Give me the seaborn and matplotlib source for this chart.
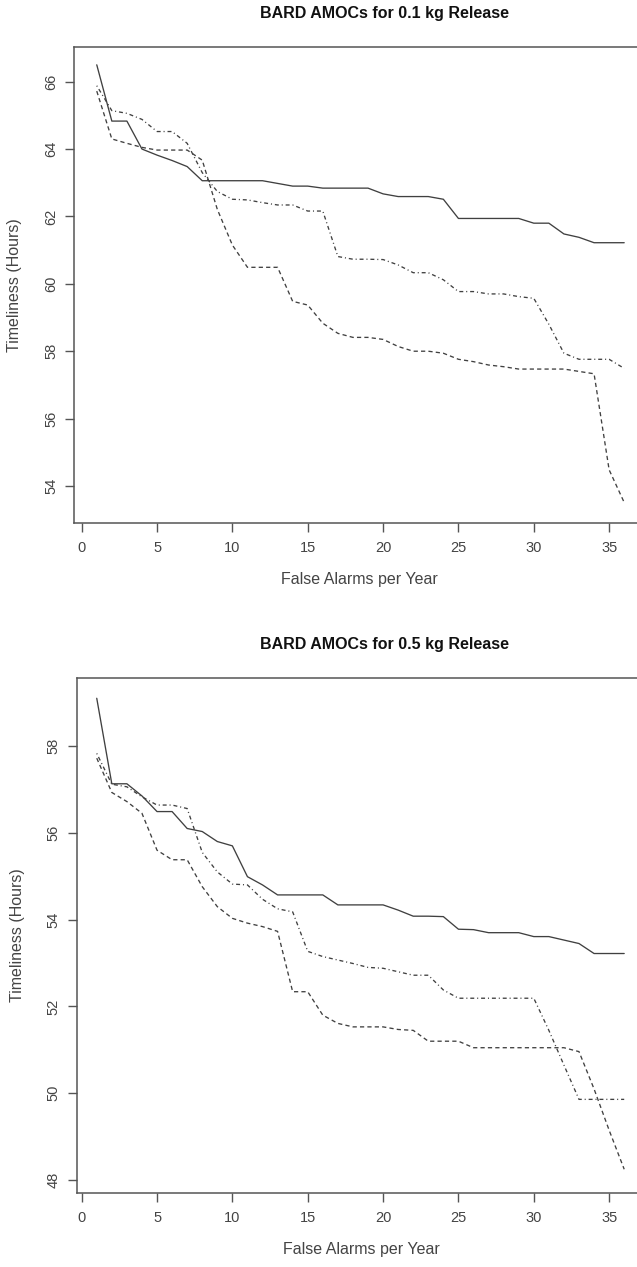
import numpy as np
import pandas as pd
import matplotlib
matplotlib.use("Agg")
import matplotlib.pyplot as plt
import seaborn as sns

# False alarms per year (x) shared by both panels
false_alarms = list(range(1, 37))

# 0.1 kg release
small_solid = [66.50, 64.83, 64.83, 64.00, 63.82, 63.66, 63.48, 63.06, 63.06, 63.06,
               63.06, 63.06, 62.98, 62.90, 62.90, 62.84, 62.84, 62.84, 62.84, 62.67,
               62.59, 62.59, 62.59, 62.51, 61.94, 61.94, 61.94, 61.94, 61.94, 61.80,
               61.80, 61.48, 61.38, 61.22, 61.22, 61.22]
small_dashed = [65.72, 64.30, 64.17, 64.05, 63.97, 63.97, 63.97, 63.67, 62.21, 61.15,
                60.49, 60.49, 60.49, 59.48, 59.37, 58.83, 58.53, 58.41, 58.41, 58.35,
                58.14, 58.00, 58.00, 57.94, 57.76, 57.69, 57.59, 57.54, 57.47, 57.47,
                57.47, 57.47, 57.40, 57.33, 54.48, 53.51]
small_dashdot = [65.88, 65.14, 65.06, 64.88, 64.52, 64.52, 64.17, 63.30, 62.74, 62.51,
                 62.49, 62.41, 62.34, 62.34, 62.16, 62.16, 60.81, 60.73, 60.73, 60.72,
                 60.56, 60.33, 60.33, 60.12, 59.77, 59.77, 59.70, 59.70, 59.62, 59.57,
                 58.80, 57.94, 57.76, 57.76, 57.76, 57.49]

# 0.5 kg release
large_solid = [59.10, 57.13, 57.13, 56.85, 56.49, 56.49, 56.10, 56.03, 55.80, 55.70,
               54.99, 54.80, 54.57, 54.57, 54.57, 54.57, 54.34, 54.34, 54.34, 54.34,
               54.22, 54.08, 54.08, 54.07, 53.78, 53.77, 53.70, 53.70, 53.70, 53.61,
               53.61, 53.53, 53.45, 53.22, 53.22, 53.22]
large_dashed = [57.72, 56.93, 56.72, 56.45, 55.60, 55.38, 55.38, 54.76, 54.30, 54.03,
                53.92, 53.84, 53.73, 52.34, 52.34, 51.80, 51.61, 51.53, 51.53, 51.53,
                51.47, 51.45, 51.20, 51.20, 51.20, 51.05, 51.05, 51.05, 51.05, 51.05,
                51.05, 51.05, 50.96, 50.10, 49.15, 48.25]
large_dashdot = [57.83, 57.12, 57.06, 56.83, 56.64, 56.64, 56.56, 55.55, 55.10, 54.82,
                 54.80, 54.47, 54.25, 54.18, 53.27, 53.15, 53.07, 52.99, 52.90, 52.88,
                 52.80, 52.72, 52.72, 52.38, 52.19, 52.19, 52.19, 52.19, 52.19, 52.19,
                 51.45, 50.65, 49.86, 49.86, 49.86, 49.86]

titles = ["BARD AMOCs for 0.1 kg Release", "BARD AMOCs for 0.5 kg Release"]
x_ticks = [0, 5, 10, 15, 20, 25, 30, 35]
y_ticks_small = [54, 56, 58, 60, 62, 64, 66]
y_ticks_large = [48, 50, 52, 54, 56, 58]

sns.set_style("ticks")
plt.rcParams["font.family"] = ["Liberation Sans", "DejaVu Sans"]

W, H = 637, 1267
fig = plt.figure(figsize=(W / 100, H / 100), dpi=100)


def frame(series):
    rows = []
    for name, vals in series.items():
        for x, v in zip(false_alarms, vals):
            rows.append({"alarms": x, "hours": v, "curve": name})
    return pd.DataFrame(rows)


dash_map = {"solid": "", "dashed": (3.2, 2.4), "dashdot": (0.8, 2.2, 3.0, 2.2)}


def panel(rect_px, xlim, ylim, series, title, yticks):
    left, top, right, bottom = rect_px
    ax = fig.add_axes([left / W, 1 - bottom / H, (right - left) / W, (bottom - top) / H])
    df = frame(series)
    sns.lineplot(data=df, x="alarms", y="hours", style="curve", dashes=dash_map,
                 color="#404040", linewidth=0.95, legend=False, ax=ax)
    ax.set_xlim(*xlim)
    ax.set_ylim(*ylim)
    ax.set_xticks(x_ticks)
    ax.set_yticks(yticks)
    ax.set_xticklabels([str(t) for t in x_ticks])
    ax.set_yticklabels([str(t) for t in yticks], rotation=90, va="center")
    for s in ax.spines.values():
        s.set_visible(True)
        s.set_color("#555555")
        s.set_linewidth(1.1)
    ax.tick_params(axis="both", direction="out", length=6.5, width=1.0,
                   color="#555555", labelsize=10.5, labelcolor="#444444")
    ax.tick_params(axis="x", pad=7)
    ax.tick_params(axis="y", pad=5)
    ax.set_xlabel("False Alarms per Year", fontsize=11.5, color="#444444", labelpad=12)
    ax.set_ylabel("Timeliness (Hours)", fontsize=11.5, color="#444444", labelpad=16)
    # heading sits a little right of the frame centre
    title_x = (385 - left) / (right - left)
    ax.set_title(title, fontsize=11.5, fontweight="bold", color="#111111",
                 x=title_x, pad=21)
    ax.grid(False)
    return ax


panel((74, 47.3, 645.3, 522.7), (-0.51, 37.4), (52.91, 67.02),
      {"solid": small_solid, "dashed": small_dashed, "dashdot": small_dashdot},
      titles[0], y_ticks_small)
panel((76.7, 678.3, 645.3, 1192.7), (-0.33, 37.4), (47.71, 59.56),
      {"solid": large_solid, "dashed": large_dashed, "dashdot": large_dashdot},
      titles[1], y_ticks_large)

fig.savefig("out.png", dpi=100, facecolor="white")
